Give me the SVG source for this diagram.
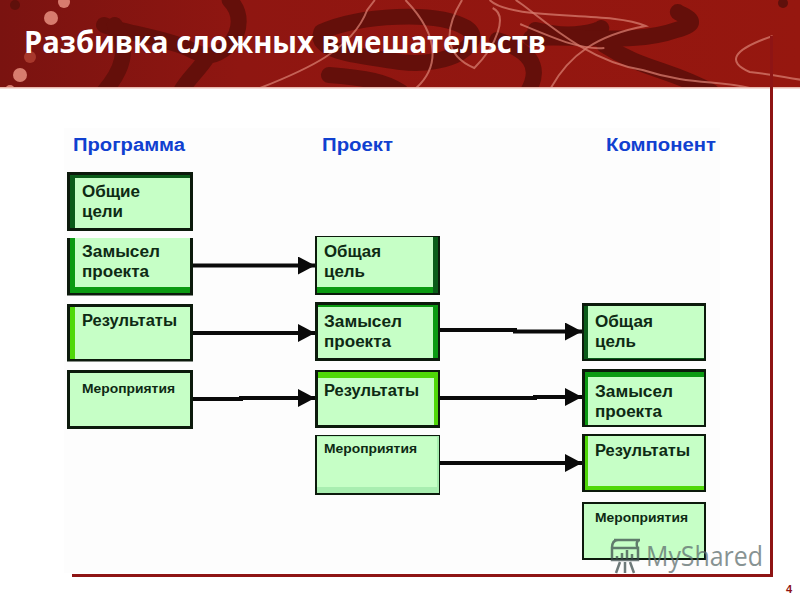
<svg xmlns="http://www.w3.org/2000/svg" width="800" height="600" viewBox="0 0 800 600">
<style>
text{font-family:"Liberation Sans",Arial,sans-serif;font-weight:bold}
.o{fill:#0c1a0c}.f{fill:#c6ffc6}.t{font-size:16px;fill:#0e2a14}.s{font-size:12.5px;fill:#0e2a14}
.h{font-size:18px;fill:#1040d0}.dk{fill:#0b5c1a}.md{fill:#0b9a12}.br{fill:#4fd808}
.m1{fill:none;stroke:#640f0a;stroke-width:16;stroke-linecap:round;stroke-linejoin:round;vector-effect:non-scaling-stroke}
.m2{fill:none;stroke:#d77c6e;stroke-width:2;opacity:.75;vector-effect:non-scaling-stroke}
</style>
<defs>
<marker id="a" markerUnits="userSpaceOnUse" markerWidth="18" markerHeight="20" refX="17" refY="9" orient="auto"><path d="M0 0L17 9L0 18Z" fill="#0a0a0a"/></marker>
<linearGradient id="band" x1="0" x2="1" y1="0" y2="0"><stop offset="0" stop-color="#7a1310"/><stop offset=".3" stop-color="#8f1611"/><stop offset="1" stop-color="#96170f"/></linearGradient>
<clipPath id="bc"><rect width="800" height="88"/></clipPath>
</defs>
<rect width="800" height="600" fill="#fff"/>
<rect x="64" y="128" width="656" height="445" fill="#fdfdfd"/>
<g id="banner">
<rect width="800" height="88" fill="url(#band)"/>
<g clip-path="url(#bc)">
<g transform="scale(1.530 1)">
<path class="m1" d="M68 25C78 32 110 38 125 50C135 58 140 58 150 45C158 30 158 12 150 0"/>
<path class="m1" d="M75 25C85 50 80 70 68 92M135 58C130 70 122 80 118 92"/>
<path class="m1" d="M210 32C235 15 285 10 305 28C318 42 295 68 262 62C235 56 205 52 210 32Z"/>
<path class="m1" d="M215 75C240 78 252 82 262 92"/>
<path class="m1" d="M325 40C345 50 355 65 345 92M350 30C375 40 392 30 393 28"/>
<path class="m1" d="M347 38C380 35 415 45 442 30C462 22 445 15 443 12M395 45C420 70 440 70 465 92"/>
<path class="m2" d="M170 88C200 70 230 50 240 10L245 0M272 88C285 70 290 40 265 0M302 0C290 30 290 55 310 68C325 45 332 15 322 8"/>
<path class="m2" d="M360 88C372 55 390 35 422 26C398 10 335 22 320 0"/>
<path class="m2" d="M337 0C350 12 380 60 420 70C450 85 470 80 490 88M505 36C478 50 475 62 490 72C505 74 520 80 535 82"/>
<path class="m2" d="M340 24C365 40 380 50 395 48"/>
</g>
<circle cx="51" cy="18" r="7" fill="#d77c6e"/><circle cx="20" cy="75" r="7" fill="#d77c6e"/><circle cx="30" cy="57" r="6" fill="#a8382c"/><circle cx="64" cy="2" r="6" fill="#d77c6e"/><circle cx="15" cy="5" r="5" fill="#5f100b"/><circle cx="10" cy="90" r="5" fill="#d77c6e"/>
<circle cx="783" cy="3" r="5" fill="#5f100b"/>
</g>
<rect y="87" width="800" height="1.500" fill="#e8b8ae"/>
<text x="24" y="53" font-size="30" fill="#fff" textLength="522" lengthAdjust="spacingAndGlyphs" style="font-family:'Open Sans',sans-serif">Разбивка сложных вмешательств</text>
</g>
<g id="frame" fill="#8e1414">
<rect x="770" y="36" width="3" height="541"/>
<rect x="72" y="574" width="701" height="3"/>
</g>
<text id="col-programme" class="h" x="73" y="151" textLength="112" lengthAdjust="spacingAndGlyphs">Программа</text>
<text id="col-project" class="h" x="322" y="151" textLength="71" lengthAdjust="spacingAndGlyphs">Проект</text>
<text id="col-component" class="h" x="606" y="151" textLength="110" lengthAdjust="spacingAndGlyphs">Компонент</text>

<g id="connectors" style="fill:none;stroke:#0a0a0a;stroke-width:4">
<path marker-end="url(#a)" d="M192 265.500H315"/>
<path marker-end="url(#a)" d="M192 333H315"/>
<path marker-end="url(#a)" d="M192 399H241V398H315"/>
<path marker-end="url(#a)" d="M440 330H515V331.500H582"/>
<path marker-end="url(#a)" d="M440 398H535V397H582"/>
<path marker-end="url(#a)" d="M440 463H582"/>
</g>

<g id="p1"><rect class="o" x="67" y="172" width="126" height="59"/><rect class="dk" x="70" y="175" width="120" height="53"/><rect class="f" x="75" y="178" width="115" height="50"/><text class="t" x="82" y="197" textLength="58" lengthAdjust="spacingAndGlyphs">Общие</text><text class="t" x="82" y="217" textLength="41" lengthAdjust="spacingAndGlyphs">цели</text></g>
<g id="p2"><rect class="o" x="67" y="238" width="126" height="57.500"/><rect class="md" x="70" y="238" width="120" height="55"/><rect class="f" x="75" y="238" width="115" height="49"/><text class="t" x="82" y="257" textLength="78" lengthAdjust="spacingAndGlyphs">Замысел</text><text class="t" x="82" y="277" textLength="67" lengthAdjust="spacingAndGlyphs">проекта</text></g>
<g id="p3"><rect class="o" x="67" y="304" width="126" height="57.500"/><rect class="br" x="70" y="307" width="120" height="52"/><rect class="f" x="75" y="307" width="115" height="52"/><text class="t" x="82" y="326" textLength="95" lengthAdjust="spacingAndGlyphs">Результаты</text></g>
<g id="p4"><rect class="o" x="67" y="370" width="126" height="59"/><rect class="f" x="70" y="373" width="120" height="53"/><text class="s" x="82" y="393" textLength="93" lengthAdjust="spacingAndGlyphs">Мероприятия</text></g>

<g id="q1"><rect class="o" x="315" y="236" width="125" height="59"/><rect class="md" x="317" y="237" width="121" height="56"/><rect class="dk" x="433" y="237" width="5" height="56"/><rect class="f" x="317" y="237" width="116" height="50"/><text class="t" x="324" y="257" textLength="57" lengthAdjust="spacingAndGlyphs">Общая</text><text class="t" x="324" y="277" textLength="41" lengthAdjust="spacingAndGlyphs">цель</text></g>
<g id="q2"><rect class="o" x="315" y="302" width="125" height="59"/><rect class="md" x="318" y="305" width="120" height="53"/><rect class="f" x="318" y="307" width="115" height="51"/><text class="t" x="324" y="327" textLength="78" lengthAdjust="spacingAndGlyphs">Замысел</text><text class="t" x="324" y="347" textLength="67" lengthAdjust="spacingAndGlyphs">проекта</text></g>
<g id="q3"><rect class="o" x="315" y="370" width="125" height="58"/><rect class="br" x="318" y="372" width="120" height="53"/><rect class="f" x="318" y="378" width="116" height="47"/><text class="t" x="324" y="396" textLength="95" lengthAdjust="spacingAndGlyphs">Результаты</text></g>
<g id="q4"><rect class="o" x="315" y="435" width="125" height="60"/><rect fill="#a8eeb0" x="317" y="436" width="122" height="57"/><rect class="f" x="317" y="437" width="120" height="50"/><text class="s" x="324" y="453" textLength="93" lengthAdjust="spacingAndGlyphs">Мероприятия</text></g>

<g id="r1"><rect class="o" x="582" y="303" width="124" height="58"/><rect class="dk" x="584" y="306" width="120" height="53"/><rect class="f" x="588" y="306" width="116" height="52"/><text class="t" x="595" y="327" textLength="58" lengthAdjust="spacingAndGlyphs">Общая</text><text class="t" x="595" y="347" textLength="41" lengthAdjust="spacingAndGlyphs">цель</text></g>
<g id="r2"><rect class="o" x="582" y="369" width="124" height="58"/><rect class="md" x="585" y="372" width="119" height="53"/><rect class="f" x="588" y="377" width="116" height="48"/><text class="t" x="595" y="397" textLength="78" lengthAdjust="spacingAndGlyphs">Замысел</text><text class="t" x="595" y="417" textLength="67" lengthAdjust="spacingAndGlyphs">проекта</text></g>
<g id="r3"><rect class="o" x="582" y="434" width="124" height="58"/><rect class="br" x="585" y="436" width="119" height="54"/><rect class="f" x="588" y="436" width="116" height="50"/><text class="t" x="595" y="456" textLength="95" lengthAdjust="spacingAndGlyphs">Результаты</text></g>
<g id="r4"><rect class="o" x="582" y="502" width="124" height="58"/><rect class="f" x="584" y="504" width="120" height="54"/><text class="s" x="595" y="522" textLength="93" lengthAdjust="spacingAndGlyphs">Мероприятия</text></g>

<g id="watermark" opacity=".75">
<path d="M614 540H640M612 548C612 542 614 540 618 540M612 548H638V560H612ZM640 540C636 540 636 546 638 548M617 560V556M622 560V553M627 560V550M632 560V554M620 562L616 573M625 562V573M630 562L634 573" fill="none" stroke="#3f4f4f" stroke-width="2.500"/>
<text x="646" y="566" font-size="28" style="font-weight:normal;font-family:'Open Sans',sans-serif" fill="#5f6f6f" textLength="117" lengthAdjust="spacingAndGlyphs">MyShared</text>
</g>
<text id="page" x="786" y="593" font-size="11" fill="#8e1414">4</text>
</svg>
